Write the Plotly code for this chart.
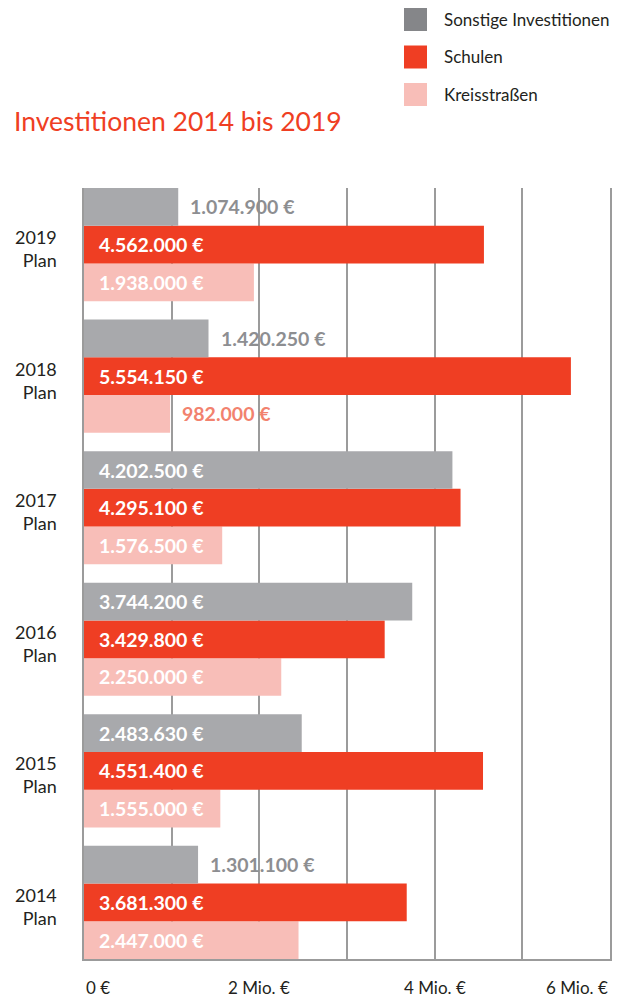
import plotly.graph_objects as go

# Data
years = ["2014", "2015", "2016", "2017", "2018", "2019"]
year_labels = ["2014<br>Plan", "2015<br>Plan", "2016<br>Plan", "2017<br>Plan", "2018<br>Plan", "2019<br>Plan"]
sonstige = [1301100, 2483630, 3744200, 4202500, 1420250, 1074900]
schulen = [3681300, 4551400, 3429800, 4295100, 5554150, 4562000]
kreisstrassen = [2447000, 1555000, 2250000, 1576500, 982000, 1938000]
x_ticks = [0, 2, 4, 6]
x_tick_labels = ["0 €", "2 Mio. €", "4 Mio. €", "6 Mio. €"]

series = [
    # name, values, bar colour, outside-label colour, vertical offset (px) within group
    ("Kreisstraßen", kreisstrassen, "#f8beb8", "#f2826e", -37.6),
    ("Schulen", schulen, "#ef3e23", "#ef3e23", 0.0),
    ("Sonstige Investitionen", sonstige, "#a8a9ac", "#8d8e91", 37.6),
]
legend_order = [series[2], series[1], series[0]]

W, H = 625, 997
ML, MR, MT, MB = 84, 15, 188, 38
PW, PH = W - ML - MR, H - MT - MB
FONT = "Lato"
BARGAP = 0.14


def px_x(px):
    return (px - ML) / PW


def px_y(py):
    return (H - MB - py) / PH


def fmt_eur(v):
    return f"{v:,}".replace(",", ".") + " €"


fig = go.Figure()
for name, vals, color, _, _ in series:
    fig.add_trace(go.Bar(
        y=years, x=[v / 1e6 for v in vals], orientation="h", name=name,
        marker=dict(color=color, line=dict(width=0)), showlegend=False,
        hoverinfo="skip",
    ))

annotations = []
# value labels: inside the bar when it is long enough, otherwise right of it
for name, vals, color, out_color, dy in series:
    for i, v in enumerate(vals):
        inside = v >= 1.5e6
        annotations.append(dict(
            x=0 if inside else v / 1e6, y=i, xref="x", yref="y",
            xanchor="left", yanchor="middle",
            xshift=13 if inside else 10, yshift=dy, text=fmt_eur(v),
            showarrow=False,
            font=dict(family=FONT, size=19.5, color="white" if inside else out_color,
                      weight="bold"),
        ))

# category labels
for i, lab in enumerate(year_labels):
    annotations.append(dict(
        x=0, y=i, xref="paper", yref="y", xanchor="right", yanchor="middle",
        xshift=-25, yshift=-4, text=lab, align="right", showarrow=False,
        font=dict(family=FONT, size=18, color="#231f20"),
    ))

# x-axis labels
anchors = ["left", "center", "center", "right"]
for t, lab, a in zip(x_ticks, x_tick_labels, anchors):
    annotations.append(dict(
        x=t, y=0, xref="x", yref="paper", xanchor=a, yanchor="middle",
        yshift=-28, text=lab, showarrow=False,
        font=dict(family=FONT, size=17, color="#231f20"),
    ))

# title
annotations.append(dict(
    x=px_x(12), y=px_y(121), xref="paper", yref="paper", xanchor="left",
    yanchor="middle", text="Investitionen 2014 bis 2019", showarrow=False,
    font=dict(family=FONT, size=26.5, color="#ef3e23"),
))

# legend
shapes = []
for i, (name, _, color, _, _) in enumerate(legend_order):
    top = 8 + i * 37.5
    shapes.append(dict(
        type="rect", xref="paper", yref="paper",
        x0=px_x(404), x1=px_x(427), y0=px_y(top + 23), y1=px_y(top),
        fillcolor=color if name != "Sonstige Investitionen" else "#858689",
        line=dict(width=0),
    ))
    annotations.append(dict(
        x=px_x(442), y=px_y(top + 11.5), xref="paper", yref="paper",
        xanchor="left", yanchor="middle", text=name, showarrow=False,
        font=dict(family=FONT, size=17, color="#231f20"),
    ))

fig.update_layout(
    width=W, height=H,
    margin=dict(l=ML, r=MR, t=MT, b=MB, pad=0),
    paper_bgcolor="white", plot_bgcolor="white",
    barmode="group", bargap=BARGAP, bargroupgap=0,
    xaxis=dict(
        range=[0, 6], dtick=1, tick0=0, showticklabels=False, ticks="",
        showgrid=True, gridcolor="#9b9b9b", gridwidth=1.5,
        zeroline=False, showline=True, linecolor="#9b9b9b", linewidth=1.5,
        fixedrange=True,
    ),
    yaxis=dict(
        type="category", categoryorder="array", categoryarray=years,
        range=[-0.5 + BARGAP / 2, 5.5 - BARGAP / 2],
        showticklabels=False, ticks="", showgrid=False, zeroline=False,
        showline=True, mirror=True, linecolor="#9b9b9b", linewidth=1.5,
        fixedrange=True,
    ),
    annotations=annotations, shapes=shapes,
)

fig.write_html("out.html")
